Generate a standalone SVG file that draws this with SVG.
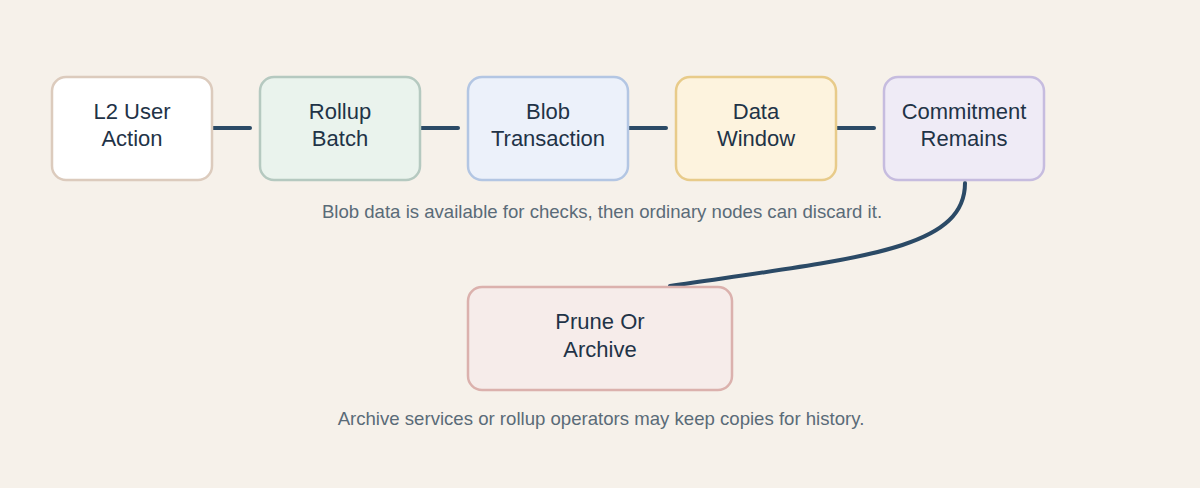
<svg xmlns="http://www.w3.org/2000/svg" width="1200" height="488" viewBox="0 0 1200 488">
<style>
.n{stroke-width:2.5}
.t{font-family:"Liberation Sans",Arial,sans-serif;font-size:22px;fill:#1f3347;text-anchor:middle}
.c{font-family:"Liberation Sans",Arial,sans-serif;font-size:18.6px;fill:#5a6b78;text-anchor:middle}
.e{stroke:#2b4a66;stroke-width:4;fill:none;stroke-linecap:round}
</style>
<rect width="1200" height="488" fill="#f6f1ea"/>
<g id="connectors">
<line class="e" x1="212" y1="128" x2="250" y2="128"/>
<line class="e" x1="420" y1="128" x2="458" y2="128"/>
<line class="e" x1="628" y1="128" x2="666" y2="128"/>
<line class="e" x1="836" y1="128" x2="874" y2="128"/>
<path class="e" d="M965,183 C965,250 860,258 670,286"/>
</g>
<g id="n1"><rect class="n" x="52" y="77" width="160" height="103" rx="14" fill="#ffffff" stroke="#dccbbd"/><text class="t" x="132" y="119">L2 User</text><text class="t" x="132" y="146">Action</text></g>
<g id="n2"><rect class="n" x="260" y="77" width="160" height="103" rx="14" fill="#eaf3ed" stroke="#b5c9c0"/><text class="t" x="340" y="119">Rollup</text><text class="t" x="340" y="146">Batch</text></g>
<g id="n3"><rect class="n" x="468" y="77" width="160" height="103" rx="14" fill="#ecf1fa" stroke="#b3c6e3"/><text class="t" x="548" y="119">Blob</text><text class="t" x="548" y="146">Transaction</text></g>
<g id="n4"><rect class="n" x="676" y="77" width="160" height="103" rx="14" fill="#fdf3de" stroke="#e8cb8a"/><text class="t" x="756" y="119">Data</text><text class="t" x="756" y="146">Window</text></g>
<g id="n5"><rect class="n" x="884" y="77" width="160" height="103" rx="14" fill="#efebf6" stroke="#c6bcdf"/><text class="t" x="964" y="119">Commitment</text><text class="t" x="964" y="146">Remains</text></g>
<g id="n6"><rect class="n" x="468" y="287" width="264" height="103" rx="14" fill="#f6ecea" stroke="#dbb1ad"/><text class="t" x="600" y="329">Prune Or</text><text class="t" x="600" y="357">Archive</text></g>
<text class="c" x="602" y="218">Blob data is available for checks, then ordinary nodes can discard it.</text>
<text class="c" x="601" y="425">Archive services or rollup operators may keep copies for history.</text>
</svg>
